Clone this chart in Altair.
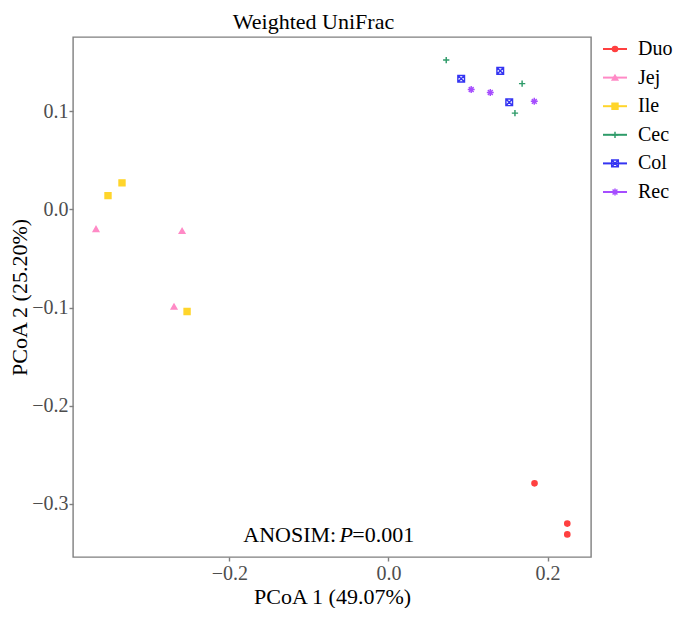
import altair as alt
import pandas as pd

groups = ["Duo", "Jej", "Ile", "Cec", "Col", "Rec"]
colors = ["#FF4040", "#FF8AC6", "#FFD52B", "#2E9B69", "#3434F2", "#A64DFF"]

duo_x = [0.1836, 0.2248, 0.2248]
duo_y = [-0.279, -0.320, -0.331]
jej_x = [-0.3677, -0.2595, -0.2696]
jej_y = [-0.020, -0.022, -0.099]
ile_x = [-0.3526, -0.3350, -0.2532]
ile_y = [0.014, 0.027, -0.104]
cec_x = [0.0726, 0.1680, 0.1590]
cec_y = [0.152, 0.128, 0.098]
col_x = [0.0914, 0.1405, 0.1518]
col_y = [0.133, 0.141, 0.109]
rec_x = [0.1040, 0.1280, 0.1833]
rec_y = [0.122, 0.119, 0.110]

x_ticks = [-0.2, 0.0, 0.2]
y_ticks = [-0.3, -0.2, -0.1, 0.0, 0.1]

xs = [duo_x, jej_x, ile_x, cec_x, col_x, rec_x]
ys = [duo_y, jej_y, ile_y, cec_y, col_y, rec_y]
rows = []
for g, gx, gy in zip(groups, xs, ys):
    for a, b in zip(gx, gy):
        rows.append({"group": g, "pc1": a, "pc2": b})
df = pd.DataFrame(rows)

FONT = "Liberation Serif"
shapes = [
    "circle",
    "triangle-up",
    "square",
    "M-1,0L1,0M0,-1L0,1",
    "M-1,-1L1,-1L1,1L-1,1ZM-1,-1L1,1M-1,1L1,-1",
    "M-1,0L1,0M0,-1L0,1M-0.7,-0.7L0.7,0.7M-0.7,0.7L0.7,-0.7",
]
fills = colors[:3] + ["transparent"] * 3
sizes = [27, 48, 29, 150, 56, 100]

shape_enc = alt.Shape("group:N", scale=alt.Scale(domain=groups, range=shapes), legend=None)
stroke_enc = alt.Stroke("group:N", scale=alt.Scale(domain=groups, range=colors), legend=None)
fill_enc = alt.Fill("group:N", scale=alt.Scale(domain=groups, range=fills), legend=None)
size_enc = alt.Size("group:O", scale=alt.Scale(domain=groups, range=sizes), legend=None)

points = alt.Chart(df).mark_point(opacity=1, strokeWidth=1.45).encode(
    x=alt.X("pc1:Q", scale=alt.Scale(domain=[-0.3966, 0.2546], nice=False, zero=False),
            axis=alt.Axis(values=x_ticks, format=".1f", title="PCoA 1 (49.07%)")),
    y=alt.Y("pc2:Q", scale=alt.Scale(domain=[-0.354, 0.1755], nice=False, zero=False),
            axis=alt.Axis(values=y_ticks, format=".1f", title="PCoA 2 (25.20%)")),
    shape=shape_enc, stroke=stroke_enc, fill=fill_enc, size=size_enc,
)

ann = pd.DataFrame({"pc1": [-0.0531], "pc2": [-0.3317]})
ann_base = alt.Chart(ann).encode(x="pc1:Q", y="pc2:Q")
t1 = ann_base.mark_text(text="ANOSIM:", align="right", baseline="middle", dx=-10,
                        font=FONT, fontSize=22, color="black")
t2 = ann_base.mark_text(text="P", align="center", baseline="middle",
                        font=FONT, fontSize=22, fontStyle="italic", color="black")
t3 = ann_base.mark_text(text="=0.001", align="left", baseline="middle", dx=6,
                        font=FONT, fontSize=22, color="black")

main = alt.layer(points, t1, t2, t3).properties(
    width=518, height=520,
    view=alt.ViewBackground(stroke="#7F7F7F", strokeWidth=1.4),
)

leg_df = pd.DataFrame({"group": groups})
leg_base = alt.Chart(leg_df).encode(
    y=alt.Y("group:N", sort=groups,
            scale=alt.Scale(type="point", range=[12, 155], padding=0), axis=None)
)
leg_rule = leg_base.mark_rule(strokeWidth=2).encode(
    x=alt.value(0), x2=alt.value(24),
    color=alt.Color("group:N", scale=alt.Scale(domain=groups, range=colors), legend=None),
)
leg_pts = leg_base.mark_point(opacity=1, strokeWidth=1.45).encode(
    x=alt.value(12), shape=shape_enc, stroke=stroke_enc, fill=fill_enc, size=size_enc,
)
leg_txt = leg_base.mark_text(align="left", baseline="middle", font=FONT, fontSize=20,
                             color="black").encode(x=alt.value(35), text="group:N")
legend = alt.layer(leg_rule, leg_pts, leg_txt).properties(width=66, height=168)

chart = alt.hconcat(main, legend, spacing=9).properties(
    padding={"left": 0, "top": 3, "right": 0, "bottom": 0},
    title=alt.TitleParams("Weighted UniFrac", font=FONT, fontSize=22, fontWeight="normal",
                          color="black", anchor="middle", offset=2, dx=-27),
).configure_view(stroke="transparent").configure_axis(
    grid=False, domain=False,
    labelFont=FONT, labelFontSize=20, labelColor="#4D4D4D",
    titleFont=FONT, titleFontSize=22, titleFontWeight="normal", titleColor="black",
    tickColor="#7F7F7F", tickWidth=1.4, tickSize=4,
).configure_axisY(titlePadding=0, labelPadding=1).configure_axisX(titlePadding=3, labelPadding=2)

chart.save("out.html", embed_options={"renderer": "svg", "actions": False})
